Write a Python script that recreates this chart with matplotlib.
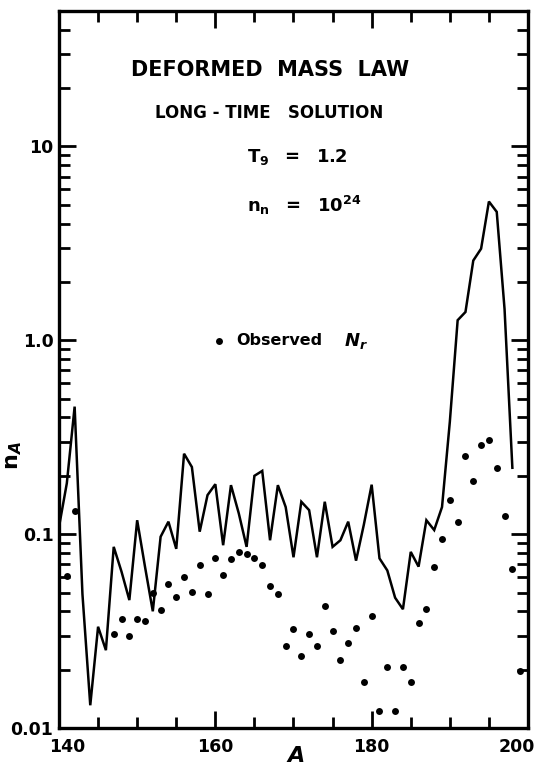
import numpy as np
import matplotlib
matplotlib.use("Agg")
import matplotlib.pyplot as plt
from matplotlib.ticker import FixedLocator, FixedFormatter, MultipleLocator, LogLocator, NullFormatter
from matplotlib.transforms import ScaledTranslation

plt.rcParams['font.family'] = ['DejaVu Sans']
plt.rcParams['font.weight'] = 'bold'
plt.rcParams['mathtext.fontset'] = 'custom'
plt.rcParams['mathtext.rm'] = 'DejaVu Sans:bold'
plt.rcParams['mathtext.bf'] = 'DejaVu Sans:bold'
plt.rcParams['mathtext.it'] = 'DejaVu Sans:italic:bold'

# Calculated abundances (long-time solution, deformed mass law)
calc_A = list(range(140, 199))
calc_n = [0.109, 0.183, 0.455, 0.049, 0.0131, 0.0333, 0.0252, 0.086, 0.064, 0.0457,
          0.118, 0.068, 0.040, 0.097, 0.116, 0.084, 0.26, 0.222, 0.103, 0.159,
          0.181, 0.0877, 0.179, 0.128, 0.086, 0.200, 0.212, 0.093, 0.179, 0.138,
          0.076, 0.147, 0.133, 0.076, 0.147, 0.086, 0.093, 0.116, 0.073, 0.112,
          0.18, 0.075, 0.065, 0.047, 0.041, 0.081, 0.068, 0.118, 0.105, 0.138,
          0.38, 1.27, 1.40, 2.58, 2.97, 5.2, 4.6, 1.45, 0.22]

# Observed r-process abundances
obs_A = [141, 142] + list(range(147, 200))
obs_n = [0.061, 0.132,
         0.0307, 0.0367, 0.0298, 0.0367, 0.0356, 0.050, 0.0405, 0.0551, 0.0475, 0.0598,
         0.0502, 0.0692, 0.049, 0.0755, 0.0612, 0.0747, 0.0806, 0.0789, 0.075, 0.0692,
         0.0542, 0.049, 0.0265, 0.0324, 0.0235, 0.0305, 0.0266, 0.0428, 0.0316, 0.0224,
         0.0275, 0.0327, 0.0173, 0.0379, 0.0123, 0.0206, 0.0123, 0.0206, 0.0173, 0.0349,
         0.0409, 0.0679, 0.094, 0.150, 0.115, 0.254, 0.1875, 0.29, 0.305, 0.22,
         0.124, 0.066, 0.0197]

x_ticks = [140, 160, 180, 200]
x_labels = ['140', '160', '180', '200']
y_ticks = [0.01, 0.1, 1.0, 10]
y_labels = ['0.01', '0.1', '1.0', '10']

fig = plt.figure(figsize=(5.43, 7.70), dpi=100)
ax = fig.add_axes([59/543, 1 - 728/770, 469/543, 717/770])

ax.plot(calc_A, calc_n, color='black', lw=1.8, solid_joinstyle='miter')
ax.plot(obs_A, obs_n, 'o', color='black', ms=5, mec='none', clip_on=False)

ax.set_yscale('log')
ax.set_xlim(140, 200)
ax.set_ylim(0.01, 50)

ax.xaxis.set_major_locator(FixedLocator(x_ticks))
ax.xaxis.set_major_formatter(FixedFormatter(x_labels))
ax.xaxis.set_minor_locator(MultipleLocator(5))
ax.yaxis.set_major_locator(FixedLocator(y_ticks))
ax.yaxis.set_major_formatter(FixedFormatter(y_labels))
ax.yaxis.set_minor_locator(LogLocator(base=10, subs=np.arange(2, 10)))
ax.yaxis.set_minor_formatter(NullFormatter())

ax.tick_params(which='both', direction='in', top=True, right=True, width=2.0,
               labelsize=12.5)
ax.tick_params(which='major', length=12)
ax.tick_params(which='minor', length=8)
ax.tick_params(axis='x', pad=7)
ax.tick_params(axis='y', pad=4)
for s in ax.spines.values():
    s.set_linewidth(2.4)

# nudge the end labels inward
xl = ax.get_xticklabels()
xl[0].set_transform(xl[0].get_transform() + ScaledTranslation(8/100, 0, fig.dpi_scale_trans))
xl[-1].set_transform(xl[-1].get_transform() + ScaledTranslation(-11/100, 0, fig.dpi_scale_trans))

ax.set_xlabel(r'$A$', fontsize=16, labelpad=0)
ax.set_ylabel(r'$\mathrm{n}_{A}$', fontsize=16, labelpad=8)
ax.yaxis.set_label_coords(-0.075, 0.38)
ax.xaxis.set_label_coords(0.505, -0.025)

ax.text(0.45, 0.918, 'DEFORMED  MASS  LAW', transform=ax.transAxes,
        ha='center', va='center', fontsize=15, fontweight='bold')
ax.text(0.448, 0.858, 'LONG - TIME   SOLUTION', transform=ax.transAxes,
        ha='center', va='center', fontsize=12, fontweight='bold')
ax.text(0.40, 0.797, r'$\mathrm{T_9\ \ =\ \ 1.2}$', transform=ax.transAxes,
        ha='left', va='center', fontsize=13)
ax.text(0.40, 0.729, r'$\mathrm{n_n\ \ =\ \ 10^{24}}$', transform=ax.transAxes,
        ha='left', va='center', fontsize=13)

ax.plot([0.341], [0.540], 'o', color='black', ms=5, mec='none', transform=ax.transAxes)
ax.text(0.378, 0.540, 'Observed', transform=ax.transAxes,
        ha='left', va='center', fontsize=11.5, fontweight='bold')
ax.text(0.607, 0.540, r'$N_r$', transform=ax.transAxes,
        ha='left', va='center', fontsize=13)

fig.savefig('out.png', dpi=100, facecolor='white')
